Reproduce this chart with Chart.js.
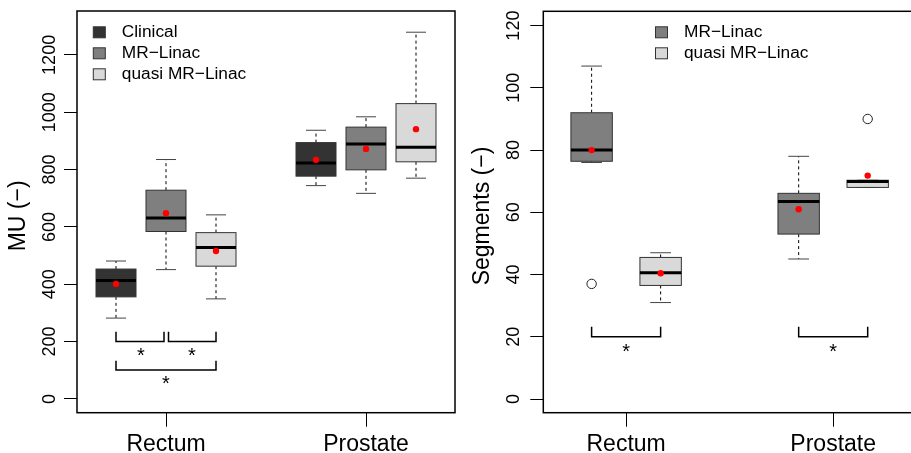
<!DOCTYPE html>
<html>
<head>
<meta charset="utf-8">
<script src="https://cdn.jsdelivr.net/npm/chart.js@4/dist/chart.umd.min.js"></script>
<style>
html, body { margin: 0; padding: 0; background: #fff; overflow: hidden; }
#wrap { position: relative; width: 911px; height: 453px; overflow: hidden; }
canvas { position: absolute; top: 0; }
</style>
</head>
<body>
<div id="wrap">
  <canvas id="mu" width="460" height="453" style="left:0"></canvas>
  <canvas id="seg" width="462" height="453" style="left:460px"></canvas>
</div>
<script>
const FONT = "'Liberation Sans', Arial, sans-serif";

// --- left panel: MU ---
const muGroups = ['Clinical', 'MR\u2212Linac', 'quasi MR\u2212Linac'];
const muColors = ['#333333', '#7f7f7f', '#d9d9d9'];
const muPos = [1, 2, 3, 5, 6, 7];
const muFill = ['#333333', '#7f7f7f', '#d9d9d9', '#333333', '#7f7f7f', '#d9d9d9'];
const muLow = [282, 451, 349, 744, 717, 770];
const muQ1 = [356, 584, 463, 777, 799, 827];
const muMed = [413, 631, 528, 823, 889, 878];
const muQ3 = [453, 728, 580, 894, 948, 1030];
const muHigh = [481, 835, 642, 937, 984, 1279];
const muMean = [401, 648, 516, 834, 872, 941];
const muTickPos = [2, 6];
const muTickLabels = ['Rectum', 'Prostate'];
const muYTicks = [0, 200, 400, 600, 800, 1000, 1200];
// brackets: [from, to, level, tip, starX, starY]
const muBrackets = [
    [1, 1.96, 200, 234, 1.5, 168],
    [2.05, 3, 200, 234, 2.52, 168],
    [1, 3, 101, 133, 2, 69]
];

// --- right panel: Segments ---
const segGroups = ['MR\u2212Linac', 'quasi MR\u2212Linac'];
const segColors = ['#7f7f7f', '#d9d9d9'];
const segPos = [1, 2, 4, 5];
const segFill = ['#7f7f7f', '#d9d9d9', '#7f7f7f', '#d9d9d9'];
const segLow = [76, 31, 45, 68];
const segQ1 = [76.4, 36.5, 53, 68];
const segMed = [80, 40.6, 63.5, 69.9];
const segQ3 = [92, 45.5, 66.1, 70.3];
const segHigh = [107, 47, 78, 70.3];
const segMean = [80, 40.4, 61, 71.8];
const segOutX = [1, 5];
const segOutY = [37, 90];
const segTickPos = [1.5, 4.5];
const segTickLabels = ['Rectum', 'Prostate'];
const segYTicks = [0, 20, 40, 60, 80, 100, 120];
const segBrackets = [
    [1, 2, 20, 23.2, 1.5, 16.8],
    [4, 5, 20, 23.2, 4.5, 16.8]
];

const rBoxplot = {
    id: 'rBoxplot',
    beforeDatasetsDraw(chart) {
        const o = chart.options.plugins.rBoxplot;
        const { ctx, scales: { x, y } } = chart;
        ctx.save();
        o.pos.forEach((p, i) => {
            const cx = x.getPixelForValue(p);
            const half = x.getPixelForValue(p + o.boxWidth / 2) - cx;
            const cap = half / 2;
            const yLo = y.getPixelForValue(o.low[i]);
            const yQ1 = y.getPixelForValue(o.q1[i]);
            const yMed = y.getPixelForValue(o.med[i]);
            const yQ3 = y.getPixelForValue(o.q3[i]);
            const yHi = y.getPixelForValue(o.high[i]);

            ctx.strokeStyle = '#000';
            ctx.lineWidth = 1;
            ctx.setLineDash([3, 3]);
            ctx.beginPath();
            ctx.moveTo(cx, yQ3); ctx.lineTo(cx, yHi);
            ctx.moveTo(cx, yQ1); ctx.lineTo(cx, yLo);
            ctx.stroke();
            ctx.setLineDash([]);
            ctx.strokeStyle = '#444';
            ctx.beginPath();
            ctx.moveTo(cx - cap, yHi); ctx.lineTo(cx + cap, yHi);
            ctx.moveTo(cx - cap, yLo); ctx.lineTo(cx + cap, yLo);
            ctx.stroke();

            ctx.fillStyle = o.fill[i];
            ctx.fillRect(cx - half, yQ3, 2 * half, yQ1 - yQ3);
            ctx.strokeStyle = '#333';
            ctx.strokeRect(cx - half, yQ3, 2 * half, yQ1 - yQ3);

            ctx.strokeStyle = '#000';
            ctx.lineWidth = 3;
            ctx.beginPath();
            ctx.moveTo(cx - half, yMed); ctx.lineTo(cx + half, yMed);
            ctx.stroke();
        });
        ctx.restore();
    },
    afterDraw(chart) {
        const o = chart.options.plugins.rBoxplot;
        const { ctx, chartArea: a, scales: { x, y } } = chart;
        ctx.save();
        // frame
        ctx.strokeStyle = '#000';
        ctx.lineWidth = 1.5;
        ctx.strokeRect(a.left, a.top, a.right - a.left, a.bottom - a.top);

        // y tick labels, rotated like R's las=0
        ctx.fillStyle = '#000';
        ctx.font = `18px ${FONT}`;
        ctx.textAlign = 'center';
        ctx.textBaseline = 'alphabetic';
        y.ticks.forEach(t => {
            ctx.save();
            ctx.translate(o.labelX, y.getPixelForValue(t.value));
            ctx.rotate(-Math.PI / 2);
            ctx.fillText(String(t.value), 0, 0);
            ctx.restore();
        });

        // y title
        ctx.save();
        ctx.font = `23px ${FONT}`;
        ctx.translate(o.titleX, (a.top + a.bottom) / 2 + 4);
        ctx.rotate(-Math.PI / 2);
        ctx.fillText(o.title, 0, 0);
        ctx.restore();

        // significance brackets
        ctx.lineWidth = 1.5;
        ctx.font = `20px ${FONT}`;
        o.brackets.forEach(([from, to, level, tip, sx, sy]) => {
            const x1 = x.getPixelForValue(from), x2 = x.getPixelForValue(to);
            const yl = y.getPixelForValue(level), yt = y.getPixelForValue(tip);
            ctx.beginPath();
            ctx.moveTo(x1, yt); ctx.lineTo(x1, yl); ctx.lineTo(x2, yl); ctx.lineTo(x2, yt);
            ctx.stroke();
            ctx.fillText('*', x.getPixelForValue(sx), y.getPixelForValue(sy) + 11);
        });

        // legend
        ctx.font = `17.3px ${FONT}`;
        ctx.textAlign = 'left';
        ctx.textBaseline = 'middle';
        ctx.lineWidth = 1;
        o.legend.forEach((name, i) => {
            const cy = o.legendY + i * 21;
            ctx.fillStyle = o.legendColors[i];
            ctx.fillRect(o.legendX, cy - 5.5, 12, 11);
            ctx.strokeStyle = '#333';
            ctx.strokeRect(o.legendX, cy - 5.5, 12, 11);
            ctx.fillStyle = '#000';
            ctx.fillText(name, o.legendX + 28.5, cy);
        });
        ctx.restore();
    }
};

function makeChart(canvas, cfg) {
    return new Chart(canvas.getContext('2d'), {
        type: 'scatter',
        data: {
            datasets: [
                {
                    data: cfg.pos.map((p, i) => ({ x: p, y: cfg.mean[i] })),
                    backgroundColor: '#ff0000',
                    borderWidth: 0,
                    pointRadius: 3.2,
                    clip: false
                },
                {
                    data: (cfg.outX || []).map((p, i) => ({ x: p, y: cfg.outY[i] })),
                    backgroundColor: 'rgba(255,255,255,0)',
                    borderColor: '#222',
                    borderWidth: 1,
                    pointRadius: 4.7,
                    clip: false
                }
            ]
        },
        options: {
            responsive: false,
            animation: false,
            events: [],
            layout: { padding: cfg.padding },
            scales: {
                x: {
                    type: 'linear',
                    min: cfg.xMin,
                    max: cfg.xMax,
                    afterBuildTicks: s => { s.ticks = cfg.tickPos.map(v => ({ value: v })); },
                    afterFit: s => { s.height = 40.3; },
                    border: { display: false },
                    grid: { drawOnChartArea: false, tickLength: 14, color: '#000', lineWidth: 1 },
                    ticks: {
                        autoSkip: false,
                        maxRotation: 0,
                        padding: 4,
                        color: '#000',
                        font: { family: FONT, size: 23 },
                        callback: (v, i) => cfg.tickLabels[i]
                    }
                },
                y: {
                    min: cfg.yMin,
                    max: cfg.yMax,
                    afterBuildTicks: s => { s.ticks = cfg.yTicks.map(v => ({ value: v })); },
                    afterFit: s => { s.width = cfg.yWidth; },
                    border: { display: false },
                    grid: { drawOnChartArea: false, tickLength: 13, color: '#000', lineWidth: 1 },
                    ticks: { display: false }
                }
            },
            plugins: {
                legend: { display: false },
                tooltip: { enabled: false },
                rBoxplot: cfg
            }
        },
        plugins: [rBoxplot]
    });
}

makeChart(document.getElementById('mu'), {
    pos: muPos, fill: muFill, low: muLow, q1: muQ1, med: muMed, q3: muQ3, high: muHigh, mean: muMean,
    boxWidth: 0.8, xMin: 0.22, xMax: 7.78, yMin: -48, yMax: 1353,
    tickPos: muTickPos, tickLabels: muTickLabels, yTicks: muYTicks,
    padding: { top: 11, right: 5, left: 0, bottom: 0 }, yWidth: 77,
    labelX: 55, titleX: 25, title: 'MU (\u2212)',
    brackets: muBrackets,
    legend: muGroups, legendColors: muColors, legendX: 93.3, legendY: 32.3
});

makeChart(document.getElementById('seg'), {
    pos: segPos, fill: segFill, low: segLow, q1: segQ1, med: segMed, q3: segQ3, high: segHigh, mean: segMean,
    outX: segOutX, outY: segOutY,
    boxWidth: 0.6, xMin: 0.3, xMax: 5.7, yMin: -4.4, yMax: 124.6,
    tickPos: segTickPos, tickLabels: segTickLabels, yTicks: segYTicks,
    padding: { top: 11.3, right: 6, left: 0, bottom: 0 }, yWidth: 83.3,
    labelX: 59.3, titleX: 29.3, title: 'Segments (\u2212)',
    brackets: segBrackets,
    legend: segGroups, legendColors: segColors, legendX: 195.5, legendY: 32.3
});
</script>
</body>
</html>
